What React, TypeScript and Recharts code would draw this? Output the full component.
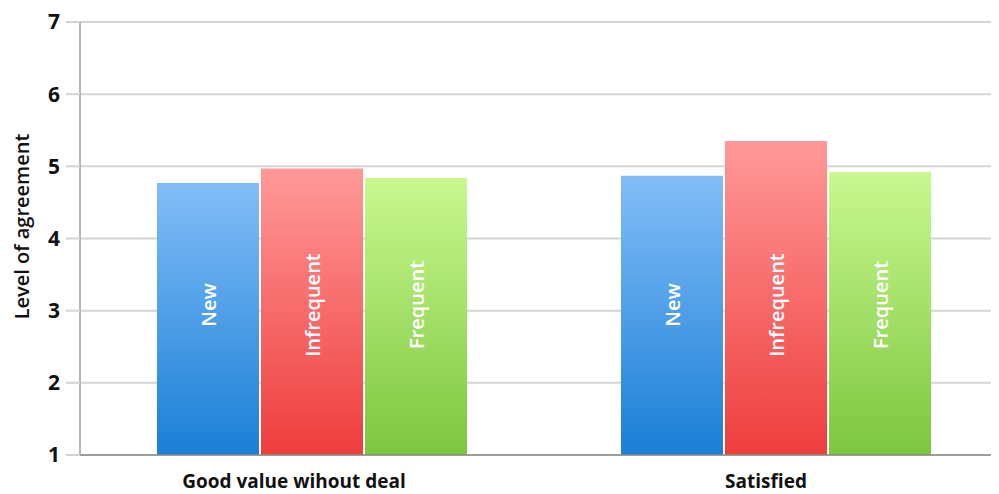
import React from "react";
import { BarChart, Bar, XAxis, YAxis, CartesianGrid, LabelList } from "recharts";

const categories = ["Good value wihout deal", "Satisfied"];
const newValues = [4.77, 4.87];
const infrequentValues = [4.97, 5.35];
const frequentValues = [4.84, 4.92];
const yTicks = [1, 2, 3, 4, 5, 6, 7];
const seriesNames = ["New", "Infrequent", "Frequent"];
const yAxisTitle = "Level of agreement";

const data = categories.map((c, i) => ({
  name: c,
  New: newValues[i],
  Infrequent: infrequentValues[i],
  Frequent: frequentValues[i],
}));

const FONT = "'Open Sans', 'Noto Sans', sans-serif";
const TICK_DX = [-18, -10];

const makeLabel = (text: string) => (props: any) => {
  const { x, y, width, height } = props;
  const cx = Number(x) + Number(width) / 2;
  const cy = Number(y) + Number(height) - 150;
  return (
    <text
      x={cx}
      y={cy}
      transform={`rotate(-90, ${cx}, ${cy})`}
      textAnchor="middle"
      dominantBaseline="central"
      fill="#ffffff"
      fontFamily={FONT}
      fontWeight={600}
      fontSize={20}
    >
      {text}
    </text>
  );
};

const XTick = (props: any) => {
  const { x, y, payload, index } = props;
  return (
    <text
      x={Number(x) + (TICK_DX[index] || 0)}
      y={Number(y) + 31}
      textAnchor="middle"
      fill="#111"
      fontFamily={FONT}
      fontWeight={700}
      fontSize={19}
    >
      {payload.value}
    </text>
  );
};

const YTitle = (props: any) => {
  const vb = props.viewBox || {};
  const cx = 13;
  const cy = Number(vb.y) + Number(vb.height) / 2 - 12;
  return (
    <text
      x={cx}
      y={cy}
      transform={`rotate(-90, ${cx}, ${cy})`}
      textAnchor="middle"
      dominantBaseline="central"
      fill="#111"
      fontFamily={FONT}
      fontWeight={600}
      fontSize={20}
    >
      {yAxisTitle}
    </text>
  );
};

export default function App() {
  return (
    <div style={{ width: 991, height: 486 }}>
      <BarChart
        width={991}
        height={486}
        data={data}
        margin={{ top: 14, right: -9, bottom: 0, left: 0 }}
        barSize={102}
        barGap={2}
      >
        <defs>
          <linearGradient id="gBlue" x1="0" y1="0" x2="0" y2="1">
            <stop offset="0%" stopColor="#82bdf8" />
            <stop offset="100%" stopColor="#1a7fd6" />
          </linearGradient>
          <linearGradient id="gRed" x1="0" y1="0" x2="0" y2="1">
            <stop offset="0%" stopColor="#ff9898" />
            <stop offset="100%" stopColor="#ef3d3d" />
          </linearGradient>
          <linearGradient id="gGreen" x1="0" y1="0" x2="0" y2="1">
            <stop offset="0%" stopColor="#c9f890" />
            <stop offset="100%" stopColor="#7dc63f" />
          </linearGradient>
        </defs>
        <CartesianGrid vertical={false} stroke="#d4d4d4" strokeWidth={2} />
        <XAxis
          dataKey="name"
          height={39}
          tickLine={false}
          tickSize={0}
          axisLine={{ stroke: "#8a8a8a", strokeWidth: 1.5 }}
          tick={<XTick />}
        />
        <YAxis
          width={72}
          domain={[1, 7]}
          ticks={yTicks}
          interval={0}
          tickSize={14}
          tickMargin={6}
          tickLine={{ stroke: "#d4d4d4", strokeWidth: 2 }}
          axisLine={{ stroke: "#b4b4b4", strokeWidth: 2 }}
          tick={{ fill: "#111", fontFamily: FONT, fontWeight: 700, fontSize: 21 }}
          label={<YTitle />}
        />
        <Bar dataKey="New" fill="url(#gBlue)" isAnimationActive={false}>
          <LabelList dataKey="New" content={makeLabel(seriesNames[0])} />
        </Bar>
        <Bar dataKey="Infrequent" fill="url(#gRed)" isAnimationActive={false}>
          <LabelList dataKey="Infrequent" content={makeLabel(seriesNames[1])} />
        </Bar>
        <Bar dataKey="Frequent" fill="url(#gGreen)" isAnimationActive={false}>
          <LabelList dataKey="Frequent" content={makeLabel(seriesNames[2])} />
        </Bar>
      </BarChart>
    </div>
  );
}
